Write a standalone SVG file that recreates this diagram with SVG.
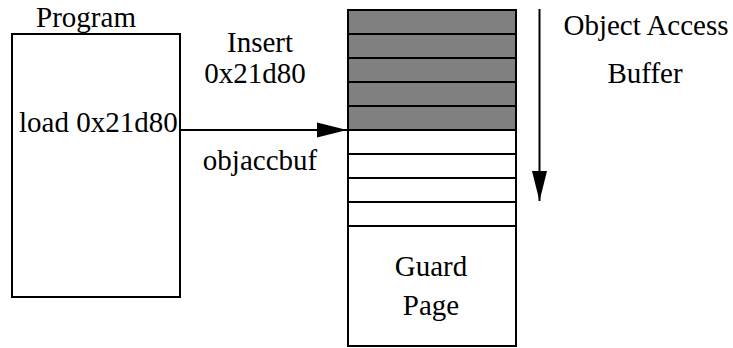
<svg xmlns="http://www.w3.org/2000/svg" width="733" height="348" viewBox="0 0 733 348">
<style>
.t{font-family:"Liberation Serif","Times New Roman",serif;font-size:29px;fill:#000}
.box{fill:#fff;stroke:#000;stroke-width:2}
.sh{fill:#808080;stroke:#000;stroke-width:2}
.ln{stroke:#000;stroke-width:2;fill:none}
</style>
<defs>
<marker id="ah" markerUnits="userSpaceOnUse" markerWidth="30" markerHeight="18" refX="30" refY="9" orient="auto">
<path d="M0,1.5 L30,9 L0,16.5 Z" fill="#000"/>
</marker>
</defs>
<rect width="733" height="348" fill="#fff"/>
<g id="program">
<rect class="box" x="12" y="34" width="168" height="263"/>
<text class="t" x="86" y="27" text-anchor="middle">Program</text>
<text class="t" x="19" y="132">load 0x21d80</text>
</g>
<g id="buffer">
<rect class="sh" x="348" y="10" width="168" height="24"/>
<rect class="sh" x="348" y="34" width="168" height="24"/>
<rect class="sh" x="348" y="58" width="168" height="24"/>
<rect class="sh" x="348" y="82" width="168" height="24"/>
<rect class="sh" x="348" y="106" width="168" height="24"/>
<rect class="box" x="348" y="130" width="168" height="24"/>
<rect class="box" x="348" y="154" width="168" height="24"/>
<rect class="box" x="348" y="178" width="168" height="24"/>
<rect class="box" x="348" y="202" width="168" height="24"/>
<rect class="box" x="348" y="226" width="168" height="120"/>
<text class="t" x="431" y="276" text-anchor="middle">Guard</text>
<text class="t" x="431" y="315" text-anchor="middle">Page</text>
</g>
<g id="labels">
<text class="t" x="260" y="52" text-anchor="middle">Insert</text>
<text class="t" x="255" y="83" text-anchor="middle">0x21d80</text>
<text class="t" x="260" y="170" text-anchor="middle">objaccbuf</text>
<text class="t" x="646" y="35" text-anchor="middle">Object Access</text>
<text class="t" x="645" y="83" text-anchor="middle">Buffer</text>
</g>
<g id="connectors">
<line class="ln" x1="180" y1="130" x2="347" y2="130" marker-end="url(#ah)"/>
<line class="ln" x1="539.5" y1="9" x2="539.5" y2="201" marker-end="url(#ah)"/>
</g>
</svg>
